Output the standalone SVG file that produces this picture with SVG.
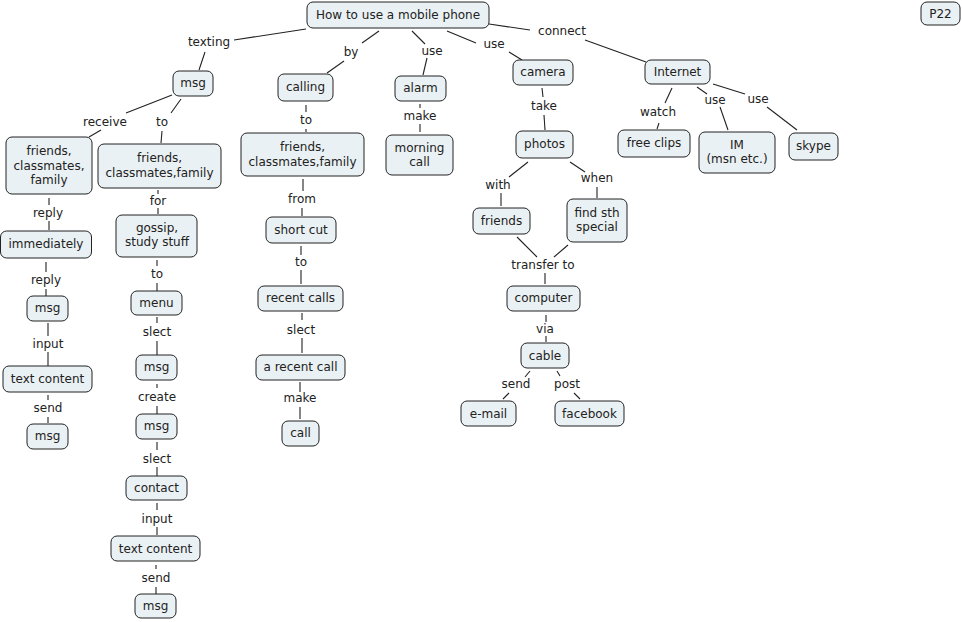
<svg xmlns="http://www.w3.org/2000/svg" width="962" height="622" viewBox="0 0 962 622">
<style>
.n rect{fill:#EAF1F4;stroke:#222;stroke-width:1}
text{font-family:"DejaVu Sans","Verdana",sans-serif;font-size:12px;fill:#222;text-anchor:middle}
#connectors line{stroke:#222;stroke-width:1.1}
</style>
<rect x="0" y="0" width="962" height="622" fill="#fff"/>
<g id="connectors">
<line x1="306" y1="29" x2="234" y2="40"/><line x1="205" y1="52" x2="199" y2="70"/>
<line x1="379" y1="31" x2="362" y2="43"/><line x1="344" y1="61" x2="327" y2="73"/>
<line x1="412" y1="31" x2="425" y2="44"/><line x1="427" y1="58" x2="423" y2="75"/>
<line x1="447" y1="31" x2="476" y2="43"/><line x1="509" y1="52" x2="522" y2="60"/>
<line x1="489" y1="24" x2="530" y2="30"/><line x1="585" y1="40" x2="646" y2="62"/>
<line x1="172" y1="95" x2="126" y2="113"/><line x1="101" y1="130" x2="89" y2="137"/>
<line x1="181" y1="99" x2="171" y2="113"/><line x1="162" y1="131" x2="161" y2="143"/>
<line x1="306" y1="105" x2="306" y2="112"/><line x1="306" y1="129" x2="306" y2="132"/>
<line x1="420" y1="104" x2="420" y2="108"/><line x1="420" y1="124" x2="420" y2="132"/>
<line x1="542" y1="88" x2="543" y2="97"/><line x1="544" y1="115" x2="545" y2="130"/>
<line x1="672" y1="88" x2="665" y2="103"/><line x1="659" y1="123" x2="657" y2="129"/>
<line x1="697" y1="87" x2="707" y2="94"/><line x1="720" y1="107" x2="728" y2="130"/>
<line x1="713" y1="84" x2="745" y2="94"/><line x1="767" y1="107" x2="797" y2="130"/>
<line x1="528" y1="162" x2="509" y2="177"/><line x1="501" y1="193" x2="501" y2="206"/>
<line x1="570" y1="162" x2="585" y2="172"/><line x1="597" y1="187" x2="597" y2="198"/>
<line x1="517" y1="237" x2="537" y2="257"/><line x1="568" y1="245" x2="554" y2="257"/>
<line x1="545" y1="273" x2="545" y2="284"/>
<line x1="546" y1="315" x2="546" y2="322"/><line x1="546" y1="336" x2="546" y2="342"/>
<line x1="530" y1="371" x2="525" y2="377"/><line x1="509" y1="393" x2="503" y2="399"/>
<line x1="557" y1="371" x2="560" y2="376"/><line x1="574" y1="393" x2="580" y2="399"/>
<line x1="49" y1="198" x2="49" y2="205"/><line x1="49" y1="221" x2="49" y2="230"/>
<line x1="46" y1="262" x2="46" y2="272"/><line x1="46" y1="289" x2="46" y2="296"/>
<line x1="48" y1="323" x2="48" y2="336"/><line x1="48" y1="352" x2="48" y2="366"/>
<line x1="48" y1="395" x2="48" y2="400"/><line x1="48" y1="417" x2="48" y2="423"/>
<line x1="158" y1="190" x2="158" y2="194"/><line x1="158" y1="208" x2="158" y2="214"/>
<line x1="157" y1="260" x2="157" y2="266"/><line x1="157" y1="283" x2="157" y2="291"/>
<line x1="157" y1="317" x2="157" y2="323"/><line x1="157" y1="341" x2="157" y2="355"/>
<line x1="157" y1="384" x2="157" y2="388"/><line x1="157" y1="406" x2="157" y2="414"/>
<line x1="157" y1="442" x2="157" y2="450"/><line x1="157" y1="467" x2="157" y2="476"/>
<line x1="157" y1="503" x2="157" y2="510"/><line x1="157" y1="527" x2="157" y2="535"/>
<line x1="156" y1="565" x2="156" y2="569"/><line x1="156" y1="587" x2="156" y2="594"/>
<line x1="303" y1="179" x2="303" y2="191"/><line x1="302" y1="208" x2="302" y2="216"/>
<line x1="301" y1="246" x2="301" y2="255"/><line x1="301" y1="270" x2="301" y2="284"/>
<line x1="302" y1="313" x2="302" y2="320"/><line x1="302" y1="338" x2="302" y2="353"/>
<line x1="300" y1="382" x2="300" y2="392"/><line x1="300" y1="407" x2="300" y2="419"/>
</g>
<g id="labels">
<text x="209" y="46">texting</text>
<text x="351" y="56">by</text>
<text x="432" y="55">use</text>
<text x="494" y="48">use</text>
<text x="562" y="35">connect</text>
<text x="105" y="126">receive</text>
<text x="162" y="126">to</text>
<text x="306" y="124">to</text>
<text x="420" y="120">make</text>
<text x="544" y="110">take</text>
<text x="658" y="116">watch</text>
<text x="715" y="104">use</text>
<text x="758" y="103">use</text>
<text x="498" y="189">with</text>
<text x="597" y="182">when</text>
<text x="543" y="269">transfer to</text>
<text x="545" y="333">via</text>
<text x="516" y="388">send</text>
<text x="567" y="388">post</text>
<text x="48" y="217">reply</text>
<text x="46" y="284">reply</text>
<text x="48" y="348">input</text>
<text x="48" y="412">send</text>
<text x="158" y="205">for</text>
<text x="157" y="278">to</text>
<text x="157" y="336">slect</text>
<text x="157" y="401">create</text>
<text x="157" y="463">slect</text>
<text x="157" y="523">input</text>
<text x="156" y="582">send</text>
<text x="302" y="203">from</text>
<text x="301" y="266">to</text>
<text x="301" y="334">slect</text>
<text x="300" y="402">make</text>
</g>
<g id="root" class="n"><rect x="307" y="2" width="182" height="26" rx="6"/><text x="398" y="19">How to use a mobile phone</text></g>
<g id="p22" class="n"><rect x="921" y="2" width="39" height="23" rx="6"/><text x="940.5" y="18">P22</text></g>
<g id="msg1" class="n"><rect x="173" y="71" width="40" height="25" rx="6"/><text x="193" y="87">msg</text></g>
<g id="calling" class="n"><rect x="278" y="74" width="55" height="27" rx="6"/><text x="305.5" y="91">calling</text></g>
<g id="alarm" class="n"><rect x="395" y="76" width="51" height="25" rx="6"/><text x="420.5" y="92">alarm</text></g>
<g id="camera" class="n"><rect x="513" y="60" width="60" height="25" rx="6"/><text x="543" y="76">camera</text></g>
<g id="internet" class="n"><rect x="645" y="60" width="65" height="24" rx="6"/><text x="677.5" y="76">Internet</text></g>
<g id="friendsL" class="n"><rect x="6" y="137" width="86" height="57" rx="6"/><text x="49" y="155">friends,</text><text x="49" y="170">classmates,</text><text x="49" y="184">family</text></g>
<g id="friends2" class="n"><rect x="98" y="144" width="123" height="44" rx="6"/><text x="159.5" y="162">friends,</text><text x="159.5" y="177">classmates,family</text></g>
<g id="friends3" class="n"><rect x="241" y="133" width="123" height="43" rx="6"/><text x="302.5" y="151">friends,</text><text x="302.5" y="166">classmates,family</text></g>
<g id="morning" class="n"><rect x="386" y="135" width="67" height="40" rx="6"/><text x="419.5" y="152">morning</text><text x="419.5" y="166">call</text></g>
<g id="photos" class="n"><rect x="516" y="131" width="57" height="27" rx="6"/><text x="544.5" y="148">photos</text></g>
<g id="freeclips" class="n"><rect x="618" y="130" width="72" height="27" rx="6"/><text x="654" y="147">free clips</text></g>
<g id="im" class="n"><rect x="699" y="132" width="76" height="41" rx="6"/><text x="737" y="149">IM</text><text x="737" y="163">(msn etc.)</text></g>
<g id="skype" class="n"><rect x="789" y="133" width="49" height="27" rx="6"/><text x="813.5" y="150">skype</text></g>
<g id="immediately" class="n"><rect x="0.5" y="231" width="91" height="27" rx="6"/><text x="46" y="248">immediately</text></g>
<g id="gossip" class="n"><rect x="116" y="215" width="81" height="42" rx="6"/><text x="157" y="232">gossip,</text><text x="157" y="246">study stuff</text></g>
<g id="shortcut" class="n"><rect x="266" y="217" width="70" height="26" rx="6"/><text x="301" y="234">short cut</text></g>
<g id="friendsP" class="n"><rect x="473" y="208" width="57" height="26" rx="6"/><text x="501.5" y="225">friends</text></g>
<g id="findsth" class="n"><rect x="567" y="199" width="60" height="43" rx="6"/><text x="597" y="217">find sth</text><text x="597" y="231">special</text></g>
<g id="msgL1" class="n"><rect x="27" y="296" width="41" height="25" rx="6"/><text x="47.5" y="312">msg</text></g>
<g id="menu" class="n"><rect x="131" y="291" width="51" height="24" rx="6"/><text x="156.5" y="307">menu</text></g>
<g id="recentcalls" class="n"><rect x="258" y="286" width="85" height="25" rx="6"/><text x="300.5" y="302">recent calls</text></g>
<g id="computer" class="n"><rect x="507" y="286" width="73" height="25" rx="6"/><text x="543.5" y="302">computer</text></g>
<g id="msgR1" class="n"><rect x="136" y="355" width="41" height="25" rx="6"/><text x="156.5" y="371">msg</text></g>
<g id="arecentcall" class="n"><rect x="256" y="355" width="89" height="25" rx="6"/><text x="300.5" y="371">a recent call</text></g>
<g id="cable" class="n"><rect x="521" y="343" width="48" height="25" rx="6"/><text x="545" y="360">cable</text></g>
<g id="textL" class="n"><rect x="3" y="366" width="89" height="26" rx="6"/><text x="47.5" y="383">text content</text></g>
<g id="msgL2" class="n"><rect x="27" y="424" width="41" height="25" rx="6"/><text x="47.5" y="440">msg</text></g>
<g id="call" class="n"><rect x="282" y="421" width="37" height="25" rx="6"/><text x="300.5" y="437">call</text></g>
<g id="email" class="n"><rect x="461" y="401" width="55" height="25" rx="6"/><text x="488.5" y="418">e-mail</text></g>
<g id="facebook" class="n"><rect x="555" y="401" width="69" height="25" rx="6"/><text x="589.5" y="418">facebook</text></g>
<g id="msgR2" class="n"><rect x="136" y="414" width="41" height="25" rx="6"/><text x="156.5" y="430">msg</text></g>
<g id="contact" class="n"><rect x="126" y="476" width="61" height="24" rx="6"/><text x="156.5" y="492">contact</text></g>
<g id="textR" class="n"><rect x="111" y="536" width="89" height="25" rx="6"/><text x="155.5" y="553">text content</text></g>
<g id="msgR3" class="n"><rect x="135" y="594" width="41" height="24" rx="6"/><text x="155.5" y="610">msg</text></g>
</svg>
